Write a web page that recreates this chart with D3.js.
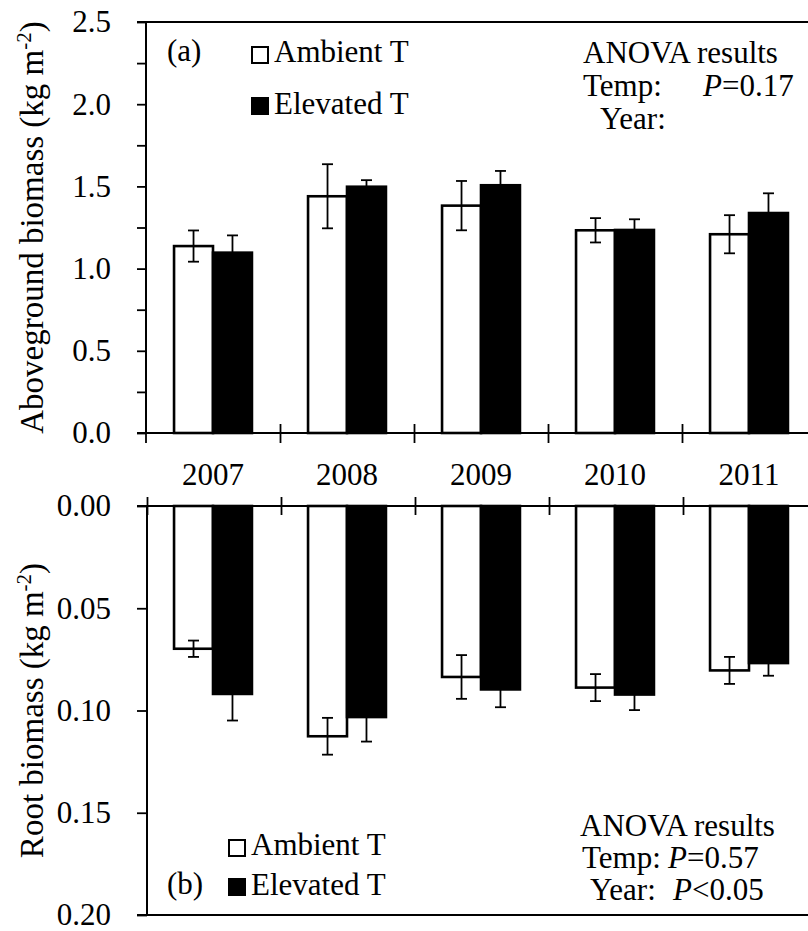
<!DOCTYPE html>
<html>
<head>
<meta charset="utf-8">
<script src="https://cdn.jsdelivr.net/npm/d3@7"></script>
<style>
  html, body { margin: 0; padding: 0; background: #fff; }
  svg { display: block; }
</style>
</head>
<body>
<div id="chart"></div>
<script>
// Biomass under ambient vs elevated temperature, 2007–2011 (mean ± SE)
const years = ["2007", "2008", "2009", "2010", "2011"];
const series = ["Ambient T", "Elevated T"];

const agAmbient     = [1.137, 1.440, 1.383, 1.233, 1.209];
const agAmbientSE   = [0.095, 0.195, 0.150, 0.074, 0.116];
const agElevated    = [1.097, 1.498, 1.507, 1.235, 1.338];
const agElevatedSE  = [0.105, 0.040, 0.087, 0.065, 0.120];

const rootAmbient     = [0.0698, 0.1126, 0.0836, 0.0888, 0.0804];
const rootAmbientSE   = [0.0040, 0.0090, 0.0107, 0.0066, 0.0066];
const rootElevated    = [0.0919, 0.1032, 0.0897, 0.0922, 0.0768];
const rootElevatedSE  = [0.0130, 0.0120, 0.0087, 0.0076, 0.0062];

const agTicks   = [0, 0.5, 1.0, 1.5, 2.0, 2.5];
const agMinor   = [0.25, 0.75, 1.25, 1.75, 2.25];
const rootTicks = [0, 0.05, 0.10, 0.15, 0.20];

const W = 808, H = 931;
const FONT = "'Liberation Serif'";
const FS = 31;          // tick / legend font size
const TITLE_FS = 33;

const svg = d3.select("#chart").append("svg").attr("width", W).attr("height", H);

const axisX0 = 146, step = 134;
const x = d3.scaleBand().domain(years).range([axisX0, axisX0 + step * years.length]).padding(0);
const xs = d3.scaleBand().domain(series).range([0, x.bandwidth()]).paddingInner(0).paddingOuter(0.72);
const xEdge = d3.scaleLinear().domain([0, years.length]).range([axisX0, axisX0 + step * years.length]);

const yTop = d3.scaleLinear().domain([0, 2.5]).range([433, 22]);
const yBot = d3.scaleLinear().domain([0, 0.2]).range([506, 915]);

function txt(sel, xp, yp, size) {
  return sel.append("text").attr("x", xp).attr("y", yp)
    .style("font-family", FONT).attr("font-size", size).attr("fill", "#000");
}

function rows(vA, sA, vE, sE) {
  const out = [];
  years.forEach((yr, i) => {
    out.push({ year: yr, s: series[0], v: vA[i], se: sA[i] });
    out.push({ year: yr, s: series[1], v: vE[i], se: sE[i] });
  });
  return out;
}

function drawBars(g, data, y) {
  g.selectAll("rect.bar").data(data).join("rect")
    .attr("class", "bar")
    .attr("x", d => x(d.year) + xs(d.s))
    .attr("width", xs.bandwidth())
    .attr("y", d => Math.min(y(0), y(d.v)))
    .attr("height", d => Math.abs(y(d.v) - y(0)))
    .attr("fill", d => d.s === series[0] ? "#fff" : "#000")
    .attr("stroke", "#000")
    .attr("stroke-width", 2.6);

  const cap = 5.5;
  const eb = g.selectAll("g.err").data(data).join("g").attr("class", "err")
    .attr("stroke", "#000").attr("stroke-width", 1.8);
  const cx = d => x(d.year) + xs(d.s) + xs.bandwidth() / 2;
  eb.append("line")
    .attr("x1", cx).attr("x2", cx)
    .attr("y1", d => y(d.v - d.se)).attr("y2", d => y(d.v + d.se));
  eb.append("line")
    .attr("x1", d => cx(d) - cap).attr("x2", d => cx(d) + cap)
    .attr("y1", d => y(d.v + d.se)).attr("y2", d => y(d.v + d.se));
  eb.append("line")
    .attr("x1", d => cx(d) - cap).attr("x2", d => cx(d) + cap)
    .attr("y1", d => y(d.v - d.se)).attr("y2", d => y(d.v - d.se));
}

function styleAxis(g) {
  g.selectAll(".domain").remove();
  g.attr("font-family", null).attr("font-size", null);
  g.selectAll(".tick line").attr("stroke", "#000").attr("stroke-width", 1.8);
  g.selectAll(".tick text").attr("font-size", FS).style("font-family", FONT).attr("fill", "#000");
}

function hline(g, x1, x2, yv) {
  g.append("line").attr("x1", x1).attr("x2", x2).attr("y1", yv).attr("y2", yv)
    .attr("stroke", "#000").attr("stroke-width", 2);
}
function vline(g, xv, y1, y2) {
  g.append("line").attr("x1", xv).attr("x2", xv).attr("y1", y1).attr("y2", y2)
    .attr("stroke", "#000").attr("stroke-width", 2);
}

function legend(g, x0, yA, yE) {
  g.append("rect").attr("x", x0).attr("y", yA - 15).attr("width", 16).attr("height", 16)
    .attr("fill", "#fff").attr("stroke", "#000").attr("stroke-width", 2);
  txt(g, x0 + 22, yA, FS).text(series[0]);
  g.append("rect").attr("x", x0 - 1).attr("y", yE - 17).attr("width", 18).attr("height", 18)
    .attr("fill", "#000");
  txt(g, x0 + 22, yE, FS).text(series[1]);
}

function yTitle(label, cy) {
  const t = svg.append("text")
    .attr("transform", `translate(43,${cy}) rotate(-90)`)
    .attr("text-anchor", "middle")
    .style("font-family", FONT)
    .attr("font-size", TITLE_FS);
  t.append("tspan").text(label + " (kg m");
  t.append("tspan").attr("font-size", 21).attr("dy", -12).text("-2");
  t.append("tspan").attr("dy", 12).text(")");
}

function pValue(g, xp, yp, rest) {
  const t = txt(g, xp, yp, FS);
  t.append("tspan").attr("font-style", "italic").text("P");
  t.append("tspan").text(rest);
}

// ---------- Panel (a): aboveground biomass ----------
const gA = svg.append("g");
drawBars(gA, rows(agAmbient, agAmbientSE, agElevated, agElevatedSE), yTop);

gA.append("g").attr("transform", `translate(${axisX0},0)`)
  .call(d3.axisLeft(yTop).tickValues(agTicks).tickSize(9).tickPadding(26).tickFormat(d3.format(".1f")))
  .call(styleAxis);
gA.append("g").attr("transform", `translate(${axisX0},0)`)
  .call(d3.axisLeft(yTop).tickValues(agMinor).tickSize(9).tickFormat(""))
  .call(styleAxis);

vline(gA, axisX0, yTop(2.5), yTop(0));
hline(gA, axisX0 - 9, W, yTop(2.5));
hline(gA, axisX0 - 9, W, yTop(0));

// category separators crossing the baseline
gA.append("g").attr("transform", `translate(0,${yTop(0) - 9})`)
  .call(d3.axisBottom(xEdge).tickValues(d3.range(1, years.length + 1)).tickSize(19).tickFormat(""))
  .call(styleAxis);
gA.append("line").attr("x1", axisX0).attr("x2", axisX0).attr("y1", yTop(0)).attr("y2", yTop(0) + 10)
  .attr("stroke", "#000").attr("stroke-width", 1.8);

// year labels
const yl = svg.append("g");
years.forEach(yr => {
  txt(yl, x(yr) + x.bandwidth() / 2, 485, FS).attr("text-anchor", "middle").text(yr);
});

yTitle("Aboveground biomass", (yTop(2.5) + yTop(0)) / 2);

txt(svg, 167, 61, FS).text("(a)");
legend(svg.append("g"), 252, 62, 114);

// ANOVA (a)
txt(svg, 583, 63, FS).text("ANOVA results");
txt(svg, 583, 96, FS).text("Temp:");
pValue(svg, 703, 96, "=0.17");
txt(svg, 600, 129, FS).text("Year:");

// ---------- Panel (b): root biomass ----------
const gB = svg.append("g");
drawBars(gB, rows(rootAmbient, rootAmbientSE, rootElevated, rootElevatedSE), yBot);

gB.append("g").attr("transform", `translate(${axisX0 + 1},0)`)
  .call(d3.axisLeft(yBot).tickValues(rootTicks).tickSize(10).tickPadding(26).tickFormat(d3.format(".2f")))
  .call(styleAxis);

vline(gB, axisX0 + 1, yBot(0), yBot(0.2));
hline(gB, axisX0 - 9, W, yBot(0));
hline(gB, axisX0 - 9, W, yBot(0.2));

gB.append("g").attr("transform", `translate(1,${yBot(0) - 9})`)
  .call(d3.axisBottom(xEdge).tickValues(d3.range(0, years.length + 1)).tickSize(18).tickFormat(""))
  .call(styleAxis);

yTitle("Root biomass", (yBot(0) + yBot(0.2)) / 2);

txt(svg, 167, 894, FS).text("(b)");
legend(svg.append("g"), 229, 855, 895);

// ANOVA (b)
txt(svg, 580, 836, FS).text("ANOVA results");
txt(svg, 582, 868, FS).text("Temp:");
pValue(svg, 668, 868, "=0.57");
txt(svg, 590, 900, FS).text("Year:");
pValue(svg, 673, 900, "<0.05");
</script>
</body>
</html>
